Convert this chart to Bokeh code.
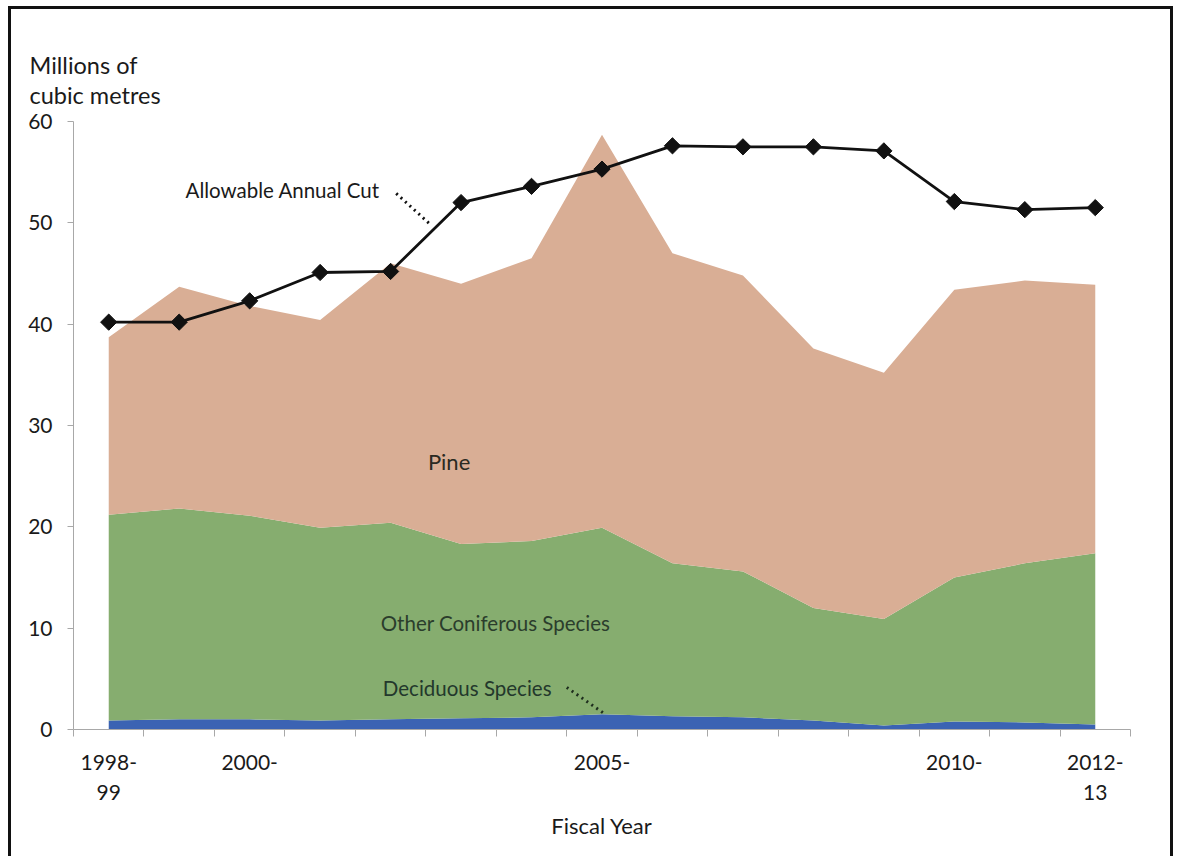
from bokeh.plotting import figure
from bokeh.models import ColumnDataSource, Range1d, FixedTicker, Label
from bokeh.embed import file_html
from bokeh.resources import INLINE

# Fiscal years and harvest volumes (millions of cubic metres)
fiscal_years = ["1998-99", "1999-00", "2000-01", "2001-02", "2002-03", "2003-04",
                "2004-05", "2005-06", "2006-07", "2007-08", "2008-09", "2009-10",
                "2010-11", "2011-12", "2012-13"]
deciduous = [0.9, 1.0, 1.0, 0.9, 1.0, 1.1, 1.2, 1.5, 1.3, 1.2, 0.9, 0.4, 0.8, 0.7, 0.5]
other_coniferous = [20.3, 20.8, 20.1, 19.0, 19.4, 17.2, 17.4, 18.4, 15.1, 14.4, 11.1, 10.5, 14.2, 15.7, 16.9]
pine = [17.5, 21.9, 20.7, 20.5, 25.6, 25.7, 27.9, 38.8, 30.6, 29.2, 25.6, 24.3, 28.4, 27.9, 26.5]
allowable_annual_cut = [40.2, 40.2, 42.3, 45.1, 45.2, 52.0, 53.6, 55.3, 57.6, 57.5, 57.5, 57.1, 52.1, 51.3, 51.5]

# Only some years carry a visible label on the axis
tick_labels = {0: "1998-\n99", 2: "2000-", 7: "2005-", 12: "2010-", 14: "2012-\n13"}
y_ticks = [0, 10, 20, 30, 40, 50, 60]

FONT = "Lato"
x = list(range(len(fiscal_years)))
src = ColumnDataSource(dict(x=x, deciduous=deciduous, other=other_coniferous,
                            pine=pine, aac=allowable_annual_cut))

p = figure(width=1159, height=847, x_range=Range1d(-0.5, 14.5), y_range=Range1d(0, 60),
           output_backend="svg", toolbar_location=None,
           min_border_left=62, min_border_right=40, min_border_top=112, min_border_bottom=127)
p.margin = (9, 0, 0, 11)
p.styles = {"outline": "3px solid #111"}
p.outline_line_color = None
p.grid.visible = False
p.background_fill_color = "white"
p.border_fill_color = "white"

# Y-axis caption drawn as a two-line title at the top left
p.title.text = "Millions of\ncubic metres"
p.title.align = "left"
p.title.offset = -44
p.title.text_font = FONT
p.title.text_font_size = "23.5px"
p.title.text_font_style = "normal"
p.title.text_color = "#1a1a1a"
p.title.text_line_height = 1.1
p.title.standoff = 24

p.varea_stack(["deciduous", "other", "pine"], x="x", source=src,
              color=["#3b63b3", "#86ad6f", "#d9ae95"])

p.line("x", "aac", source=src, line_color="#111111", line_width=2.8)
p.scatter("x", "aac", source=src, marker="square", angle=0.785398, size=11.5,
          fill_color="#111111", line_color="#111111")

# Axes
xa = p.xaxis[0]
xa.ticker = FixedTicker(ticks=list(tick_labels.keys()),
                        minor_ticks=[i - 0.5 for i in range(len(fiscal_years) + 1)])
xa.major_label_overrides = tick_labels
xa.major_tick_line_color = None
xa.minor_tick_out = 7
xa.minor_tick_in = 0
xa.minor_tick_line_color = "#a8a8a8"
xa.axis_line_color = "#a8a8a8"
xa.axis_label = "Fiscal Year"
xa.axis_label_text_font = FONT
xa.axis_label_text_font_size = "22px"
xa.axis_label_text_font_style = "normal"
xa.axis_label_text_color = "#1a1a1a"
xa.major_label_text_font = FONT
xa.major_label_text_font_size = "21px"
xa.major_label_text_color = "#1a1a1a"
xa.major_label_standoff = 12

ya = p.yaxis[0]
ya.ticker = FixedTicker(ticks=y_ticks)
ya.axis_line_color = "#a8a8a8"
ya.major_tick_line_color = "#a8a8a8"
ya.major_tick_out = 6
ya.major_tick_in = 0
ya.minor_tick_line_color = None
ya.major_label_text_font = FONT
ya.major_label_text_font_size = "21px"
ya.major_label_text_color = "#1a1a1a"
ya.major_label_standoff = 15

def add_label(xv, yv, text, size="20.5px", color="#1a1a1a", align="left"):
    p.add_layout(Label(x=xv, y=yv, text=text, text_font=FONT, text_font_size=size,
                       text_color=color, text_align=align, text_baseline="middle"))

add_label(1.09, 53.2, "Allowable Annual Cut")
add_label(4.83, 26.4, "Pine", size="22px", align="center", color="#2a2a22")
add_label(3.86, 10.5, "Other Coniferous Species", color="#2b3d2c")
add_label(3.89, 4.05, "Deciduous Species", color="#23382c")

# Dotted leader lines from labels to their series
p.line([4.08, 4.57], [52.9, 49.8], line_color="#111111", line_width=3, line_dash="2 4")
p.line([6.5, 7.03], [4.15, 1.58], line_color="#1e2e1e", line_width=3, line_dash="2 4")

open("out.html", "w").write(file_html(p, INLINE))
